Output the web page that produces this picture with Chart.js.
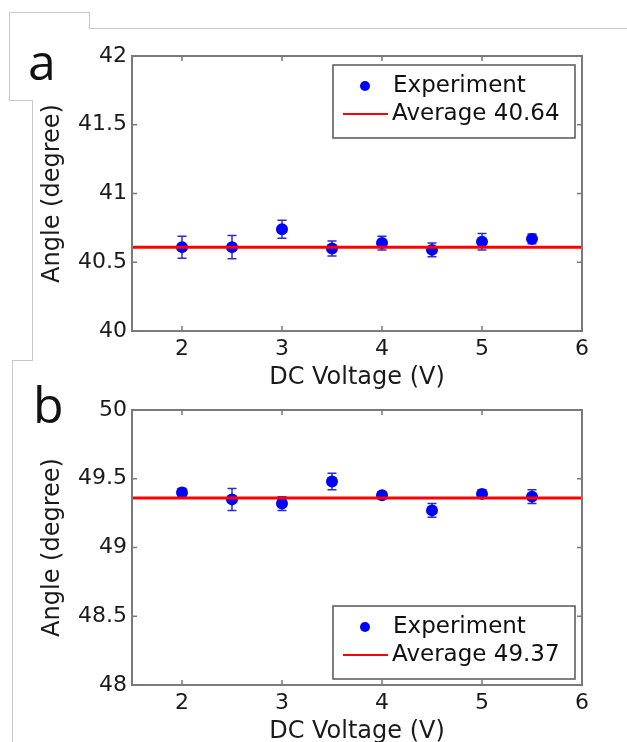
<!DOCTYPE html>
<html>
<head>
<meta charset="utf-8">
<title>Angle vs DC voltage</title>
<script src="https://cdn.jsdelivr.net/npm/chart.js@4.4.1/dist/chart.umd.min.js"></script>
<style>
  html, body { margin: 0; padding: 0; background: #fff; }
  body { width: 627px; height: 742px; position: relative; overflow: hidden; }
  .panel { position: absolute; left: 0; width: 627px; height: 392px; }
  #panelA { top: 0; }
  #panelB { top: 354px; }
  .tag { position: absolute; font-family: "Open Sans", sans-serif; font-size: 50px; line-height: 1; color: #111; }
  .edge { position: absolute; background: #c8c8c8; }
</style>
</head>
<body>
<!-- slide outline left over from the screenshot -->
<div class="edge" style="left:90px; top:28px; width:537px; height:1px;"></div>
<div class="edge" style="left:9px; top:12px; width:81px; height:1px;"></div>
<div class="edge" style="left:89px; top:12px; width:1px; height:17px;"></div>
<div class="edge" style="left:9px; top:12px; width:1px; height:89px;"></div>
<div class="edge" style="left:9px; top:100px; width:24px; height:1px;"></div>
<div class="edge" style="left:32px; top:100px; width:1px; height:261px;"></div>
<div class="edge" style="left:12px; top:360px; width:21px; height:1px;"></div>
<div class="edge" style="left:12px; top:360px; width:1px; height:382px;"></div>

<div class="panel" id="panelA"><canvas id="chartA" width="627" height="392"></canvas></div>
<div class="panel" id="panelB"><canvas id="chartB" width="627" height="392"></canvas></div>

<div class="tag" style="left:28px; top:36px;">a</div>
<div class="tag" style="left:33px; top:379px;">b</div>

<script>
const voltage = [2, 2.5, 3, 3.5, 4, 4.5, 5, 5.5];

// panel a
const angleA = [40.61, 40.61, 40.74, 40.60, 40.64, 40.59, 40.65, 40.67];
const errA = [0.08, 0.085, 0.065, 0.055, 0.05, 0.05, 0.06, 0.035];
const averageA = 40.61;
const yTicksA = [40, 40.5, 41, 41.5, 42];
const labelsA = ["Experiment", "Average 40.64"];

// panel b
const angleB = [49.40, 49.35, 49.32, 49.48, 49.38, 49.27, 49.39, 49.37];
const errB = [0.03, 0.08, 0.05, 0.06, 0.025, 0.05, 0.03, 0.05];
const averageB = 49.36;
const yTicksB = [48, 48.5, 49, 49.5, 50];
const labelsB = ["Experiment", "Average 49.37"];

const xTicks = [2, 3, 4, 5, 6];
const xRange = [1.5, 6];

const FONT = "'DejaVu Sans', sans-serif";
const TEXT = "#1a1a1a";

/* error bars, under the points */
const errorBars = {
  id: "errorBars",
  beforeDatasetsDraw(chart, args, opts) {
    const { ctx, scales: { x, y } } = chart;
    const pts = chart.data.datasets[0].data;
    ctx.save();
    ctx.strokeStyle = "#2b2bd6";
    ctx.lineWidth = 1.5;
    pts.forEach((p, i) => {
      const e = opts.errors[i];
      const px = x.getPixelForValue(p.x);
      const top = y.getPixelForValue(p.y + e);
      const bot = y.getPixelForValue(p.y - e);
      ctx.beginPath();
      ctx.moveTo(px, top); ctx.lineTo(px, bot);
      ctx.moveTo(px - 4.5, top); ctx.lineTo(px + 4.5, top);
      ctx.moveTo(px - 4.5, bot); ctx.lineTo(px + 4.5, bot);
      ctx.stroke();
    });
    ctx.restore();
  }
};

/* matlab style box with inward ticks */
const frameBox = {
  id: "frameBox",
  afterDraw(chart) {
    const { ctx, chartArea: a, scales: { x, y } } = chart;
    ctx.save();
    ctx.strokeStyle = "#7a7a7a";
    ctx.lineWidth = 2;
    ctx.strokeRect(a.left, a.top, a.right - a.left, a.bottom - a.top);
    ctx.lineWidth = 1.5;
    ctx.beginPath();
    x.ticks.forEach(t => {
      const px = x.getPixelForValue(t.value);
      ctx.moveTo(px, a.bottom); ctx.lineTo(px, a.bottom - 5);
      ctx.moveTo(px, a.top); ctx.lineTo(px, a.top + 5);
    });
    y.ticks.forEach(t => {
      const py = y.getPixelForValue(t.value);
      ctx.moveTo(a.left, py); ctx.lineTo(a.left + 5, py);
      ctx.moveTo(a.right, py); ctx.lineTo(a.right - 5, py);
    });
    ctx.stroke();
    ctx.restore();
  }
};

/* legend box inside the plot */
const boxLegend = {
  id: "boxLegend",
  afterDraw(chart, args, opts) {
    const { ctx, chartArea: a } = chart;
    const ds = chart.data.datasets;
    const w = 242, h = 73;
    const left = a.right - 249;
    const top = opts.corner === "bottom" ? a.bottom - 6 - h : a.top + 9;
    ctx.save();
    ctx.fillStyle = "#fff";
    ctx.fillRect(left, top, w, h);
    ctx.strokeStyle = "#555";
    ctx.lineWidth = 1.5;
    ctx.strokeRect(left, top, w, h);

    ctx.fillStyle = ds[0].backgroundColor;
    ctx.beginPath();
    ctx.arc(left + 32, top + 21, 5, 0, Math.PI * 2);
    ctx.fill();

    ctx.strokeStyle = ds[1].borderColor;
    ctx.lineWidth = 2;
    ctx.beginPath();
    ctx.moveTo(left + 10, top + 49);
    ctx.lineTo(left + 55, top + 49);
    ctx.stroke();

    ctx.fillStyle = "#111";
    ctx.font = "23px " + FONT;
    ctx.textBaseline = "middle";
    ctx.fillText(ds[0].label, left + 60, top + 21);
    ctx.fillText(ds[1].label, left + 59, top + 49);
    ctx.restore();
  }
};

function makeChart(id, angles, errs, avg, yTicks, labels, corner) {
  return new Chart(document.getElementById(id), {
    type: "scatter",
    data: {
      datasets: [
        {
          label: labels[0],
          data: voltage.map((v, i) => ({ x: v, y: angles[i] })),
          backgroundColor: "#0000ff",
          borderColor: "#0000ff",
          pointRadius: 6,
          pointBorderWidth: 0,
          order: 1
        },
        {
          type: "line",
          label: labels[1],
          data: xRange.map(v => ({ x: v, y: avg })),
          borderColor: "#ff0000",
          borderWidth: 3,
          pointRadius: 0,
          order: 0
        }
      ]
    },
    options: {
      responsive: false,
      animation: false,
      devicePixelRatio: 1,
      events: [],
      layout: { padding: { top: 56, right: 45, left: 0, bottom: 0 } },
      plugins: {
        legend: { display: false },
        tooltip: { enabled: false },
        errorBars: { errors: errs },
        boxLegend: { corner: corner }
      },
      scales: {
        x: {
          type: "linear",
          min: xRange[0],
          max: xRange[1],
          afterBuildTicks: s => { s.ticks = xTicks.map(v => ({ value: v })); },
          afterFit: s => { s.height = 61; },
          grid: { display: false, drawTicks: false },
          border: { display: false },
          ticks: {
            padding: 5, color: TEXT, autoSkip: false, maxRotation: 0,
            font: { family: FONT, size: 22 },
            callback: v => String(v)
          },
          title: {
            display: true, text: "DC Voltage (V)", color: TEXT,
            font: { family: FONT, size: 24 }, padding: { top: 0, bottom: 0 }
          }
        },
        y: {
          type: "linear",
          min: yTicks[0],
          max: yTicks[yTicks.length - 1],
          afterBuildTicks: s => { s.ticks = yTicks.map(v => ({ value: v })); },
          afterFit: s => { s.width = 132; },
          grid: { display: false, drawTicks: false },
          border: { display: false },
          ticks: {
            padding: 5, color: TEXT,
            font: { family: FONT, size: 22 },
            callback: v => String(v)
          },
          title: {
            display: true, text: "Angle (degree)", color: TEXT,
            font: { family: FONT, size: 24 }, padding: { top: 38, bottom: 0 }
          }
        }
      }
    },
    plugins: [errorBars, frameBox, boxLegend]
  });
}

makeChart("chartA", angleA, errA, averageA, yTicksA, labelsA, "top");
makeChart("chartB", angleB, errB, averageB, yTicksB, labelsB, "bottom");
</script>
</body>
</html>
